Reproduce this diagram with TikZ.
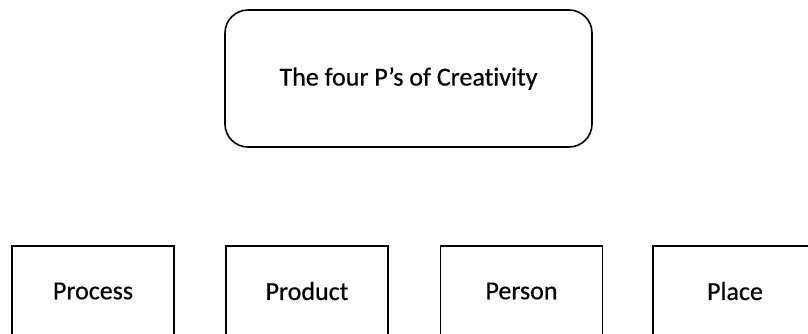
\documentclass[tikz,border=0pt]{standalone}
\usepackage{fontspec}
\setmainfont[Ligatures=NoCommon,FakeBold=0.5]{Carlito}
\begin{document}
\begin{tikzpicture}[x=1pt,y=-1pt,
  titlebox/.style={draw=black,line width=1.6pt,rounded corners=23pt,
    minimum width=367pt,minimum height=137pt,inner sep=0pt,
    font=\fontsize{26}{30}\selectfont},
  pbox/.style={draw=black,line width=1.6pt,minimum width=162pt,
    minimum height=90pt,inner sep=0pt,font=\fontsize{26}{30}\selectfont}]
  \useasboundingbox (0,0) rectangle (808,333);
  \clip (0,0) rectangle (808,333);
  \fill[white] (0,0) rectangle (808,333);
  \node[titlebox] (title) at (408.5,78.5) {The four P’s of Creativity};
  \node[pbox] (process) at (93,291) {Process};
  \node[pbox] (product) at (307,291) {Product};
  \node[pbox] (person) at (521.5,291) {Person};
  \node[pbox,minimum width=164pt] (place) at (735,291) {Place};
\end{tikzpicture}
\end{document}
